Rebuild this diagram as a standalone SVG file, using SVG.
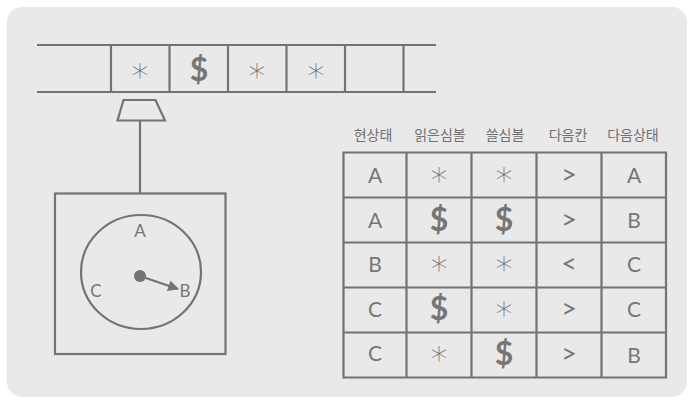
<svg xmlns="http://www.w3.org/2000/svg" width="695" height="406" viewBox="0 0 695 406">
<defs>
<style>
.ln{stroke:#737373;stroke-width:2.2;fill:none}
.t{font-family:Lato,"Noto Sans",sans-serif;fill:#767676;text-anchor:middle}
.c{font-size:21px}
.g{font-size:27px}
.d{font-size:32px;font-weight:bold}
.s{font-family:"DejaVu Sans",sans-serif;font-size:34px;font-weight:300}
.h{font-family:"Noto Sans CJK KR",sans-serif;font-size:14px;fill:#707070;text-anchor:middle}
</style>
<marker id="ah" viewBox="0 0 10 10" refX="9" refY="5" markerWidth="5" markerHeight="5" orient="auto"><path d="M0,0L10,5L0,10z" fill="#737373"/></marker>
</defs>
<rect width="695" height="406" fill="#fff"/>
<rect x="7" y="7" width="680" height="390" rx="15" fill="#e9e9e9"/>
<g id="tape">
<path class="ln" d="M37,45H436M37,92H436M111,45V92M169.5,45V92M228,45V92M286.5,45V92M345,45V92M403.5,45V92"/>
<text class="t s" x="140" y="88">*</text>
<text class="t d" x="199" y="81">$</text>
<text class="t s" x="257" y="88">*</text>
<text class="t s" x="316" y="88">*</text>
</g>
<g id="head">
<path class="ln" d="M123.5,100H155.5L165,120.5H117.5Z"/>
</g>
<g id="connectors">
<path class="ln" d="M140,120.5V193"/>
</g>
<g id="machine">
<rect class="ln" x="55" y="193.5" width="170.5" height="160.5"/>
<ellipse class="ln" cx="141" cy="272" rx="60" ry="57"/>
<circle cx="140" cy="276" r="6" fill="#737373"/>
<line class="ln" x1="140" y1="276" x2="178" y2="289" marker-end="url(#ah)"/>
<text class="t" font-size="17" x="140" y="237">A</text>
<text class="t" font-size="17" x="96" y="297">C</text>
<text class="t" font-size="17" x="185" y="297">B</text>
</g>
<g id="table">
<text class="h" x="373" y="140">현상태</text>
<text class="h" x="440" y="140">읽은심볼</text>
<text class="h" x="505" y="140">쓸심볼</text>
<text class="h" x="568" y="140">다음칸</text>
<text class="h" x="633" y="140">다음상태</text>
<path class="ln" d="M343.5,152.5H666V377.5H343.5ZM406.5,152.5V377.5M471.5,152.5V377.5M536.5,152.5V377.5M601.5,152.5V377.5M343.5,197.5H666M343.5,242.5H666M343.5,287.5H666M343.5,332.5H666"/>
<text class="t c" x="375" y="183">A</text>
<text class="t s" x="439" y="192">*</text>
<text class="t s" x="504" y="192">*</text>
<text class="t g" x="569" y="184">&gt;</text>
<text class="t c" x="634" y="183">A</text>
<text class="t c" x="375" y="228">A</text>
<text class="t d" x="439" y="231">$</text>
<text class="t d" x="504" y="231">$</text>
<text class="t g" x="569" y="229">&gt;</text>
<text class="t c" x="634" y="228">B</text>
<text class="t c" x="375" y="272">B</text>
<text class="t s" x="439" y="281">*</text>
<text class="t s" x="504" y="281">*</text>
<text class="t g" x="569" y="273">&lt;</text>
<text class="t c" x="634" y="272">C</text>
<text class="t c" x="375" y="317">C</text>
<text class="t d" x="439" y="320">$</text>
<text class="t s" x="504" y="326">*</text>
<text class="t g" x="569" y="318">&gt;</text>
<text class="t c" x="634" y="317">C</text>
<text class="t c" x="375" y="361">C</text>
<text class="t s" x="439" y="371">*</text>
<text class="t d" x="504" y="365">$</text>
<text class="t g" x="569" y="363">&gt;</text>
<text class="t c" x="634" y="363">B</text>
</g>
</svg>
